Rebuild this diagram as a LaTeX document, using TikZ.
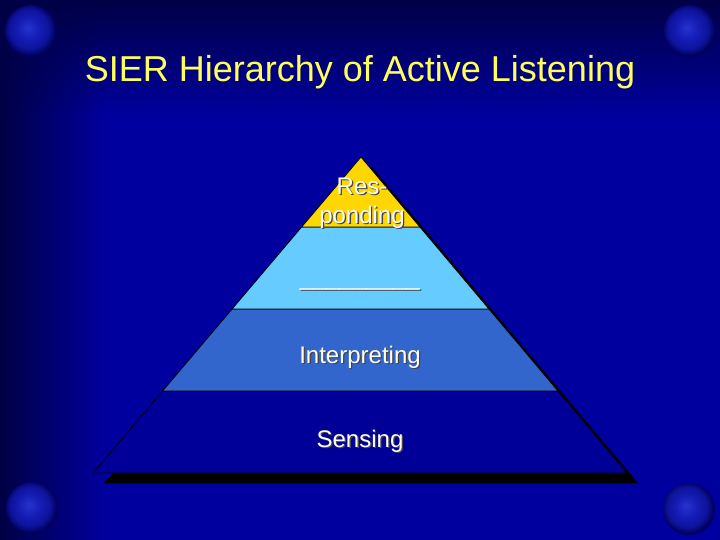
\documentclass[tikz,border=0pt]{standalone}
\usepackage{fontspec}
\setmainfont{Liberation Sans}
\usetikzlibrary{calc}
\usetikzlibrary{fadings}

\definecolor{slidebg}{RGB}{0,0,158}
\definecolor{slidedark}{RGB}{0,0,70}
\definecolor{titleyellow}{RGB}{255,255,90}
\definecolor{tierone}{RGB}{255,215,0}
\definecolor{tiertwo}{RGB}{102,204,255}
\definecolor{tierthree}{RGB}{51,102,204}
\definecolor{tierfour}{RGB}{0,0,153}
\definecolor{embossc}{RGB}{70,70,70}
\definecolor{knobin}{RGB}{40,50,205}
\definecolor{knobmid}{RGB}{20,28,180}
\definecolor{knobedge}{RGB}{0,0,95}

\pgfdeclareradialshading{knob}{\pgfpoint{-3bp}{3bp}}{color(0bp)=(knobin); color(11bp)=(knobmid); color(19bp)=(knobmid!70!knobedge); color(25bp)=(knobedge); color(50bp)=(knobedge)}
\tikzfading[name=fadeleftstrip, left color=transparent!0, right color=transparent!100]
\tikzfading[name=fadetopstrip, top color=transparent!0, bottom color=transparent!100]

\newcommand\embossed[1]{\leavevmode\rlap{\hspace{1.3pt}\raisebox{-1.3pt}{\textcolor{embossc}{#1}}}#1}

\begin{document}
\begin{tikzpicture}[x=1pt, y=-1pt,
    tier/.style={draw=black, line width=0.8pt, line join=round},
    tierlabel/.style={text=white, align=center, inner sep=0pt, font=\fontsize{24}{29}\selectfont},
    knobstyle/.style={shading=knob}]
\useasboundingbox (0,0) rectangle (720,540);
% background
\fill[slidebg] (0,0) rectangle (720,540);
\fill[slidedark, path fading=fadeleftstrip] (0,0) rectangle (105,540);
\fill[slidedark, path fading=fadetopstrip] (0,0) rectangle (720,115);
\foreach \kx/\ky in {31/31, 690/31, 32/508, 689/509}
    \shade[knobstyle] (\kx,\ky) circle (26);

% title
\node[anchor=base, text=titleyellow, inner sep=0pt, font=\fontsize{36}{40}\selectfont] (title) at (360,82) {SIER Hierarchy of Active Listening};

% pyramid
\coordinate (apex) at (361,157);
\coordinate (baseL) at (93,473);
\coordinate (baseR) at (627,473);
\foreach \name/\t in {a/0.2215, b/0.481, c/0.7405}{
    \coordinate (L\name) at ($(apex)!\t!(baseL)$);
    \coordinate (R\name) at ($(apex)!\t!(baseR)$);
}
\fill[black] ([shift={(11,10)}]apex) -- ([shift={(11,10)}]baseR) -- ([shift={(11,10)}]baseL) -- cycle;
\filldraw[tier, fill=tierfour] (Lc) -- (Rc) -- (baseR) -- (baseL) -- cycle;
\filldraw[tier, fill=tierthree] (Lb) -- (Rb) -- (Rc) -- (Lc) -- cycle;
\filldraw[tier, fill=tiertwo] (La) -- (Ra) -- (Rb) -- (Lb) -- cycle;
\filldraw[tier, fill=tierone] (apex) -- (Ra) -- (La) -- cycle;

% labels
\node[tierlabel] (responding) at (362,204) {\embossed{Res-}\\\embossed{ponding}};
\node[tierlabel, anchor=base] (blank) at (360,285) {\embossed{\_\_\_\_\_\_\_\_\_}};
\node[tierlabel, anchor=base] (interpreting) at (360,363) {\embossed{Interpreting}};
\node[tierlabel, anchor=base] (sensing) at (360,447) {\embossed{Sensing}};
\end{tikzpicture}
\end{document}
